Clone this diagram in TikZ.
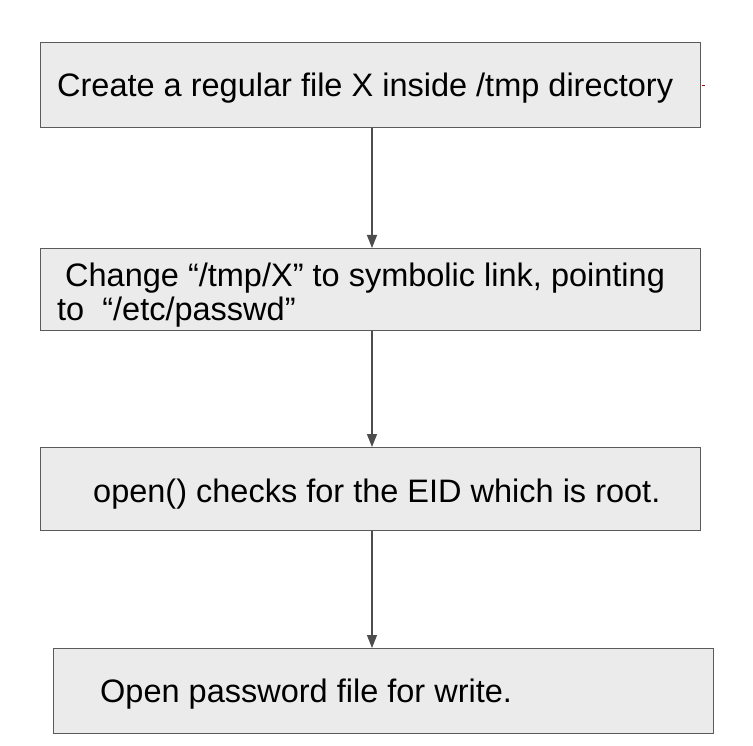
\documentclass[tikz,border=0pt]{standalone}
\usepackage{fontspec}
\setmainfont{Liberation Sans}
\usetikzlibrary{arrows.meta}
\definecolor{boxfill}{HTML}{EBEBEB}
\definecolor{boxline}{HTML}{5A5A5A}
\definecolor{arrowc}{HTML}{4D4D4D}
\begin{document}
\begin{tikzpicture}[x=1pt,y=-1pt,
  stepbox/.style={draw=boxline,fill=boxfill,line width=1.3pt,rectangle,inner sep=0pt,
    minimum width=660pt,minimum height=85pt,anchor=north west},
  lbl/.style={anchor=base west,inner sep=0pt,font=\fontsize{32.5}{33}\selectfont,text=black},
  conn/.style={draw=arrowc,line width=1.3pt,-{Triangle[length=13pt,width=10pt]}}]
\useasboundingbox (0,0) rectangle (753,746);
\fill[white] (0,0) rectangle (753,746);
\node[stepbox] (b1) at (40,42) {};
\node[stepbox,minimum height=82pt] (b2) at (40,248) {};
\node[stepbox,minimum height=83pt] (b3) at (40,447) {};
\node[stepbox] (b4) at (53,648) {};
\node[lbl] (t1) at (57,97) {Create a regular file X inside /tmp directory};
\node[lbl] (t2a) at (65,287) {Change “/tmp/X” to symbolic link, pointing};
\node[lbl] (t2b) at (57,320) {to \ “/etc/passwd”};
\node[lbl] (t3) at (93,502) {open() checks for the EID which is root.};
\node[lbl] (t4) at (100,702) {Open password file for write.};
\coordinate (r1) at (b1.east);
\draw[red!70!black,line width=0.8pt] ([xshift=1pt]r1) -- ([xshift=4pt]r1);
\draw[conn] (b1.south -| 372,0) -- (b2.north -| 372,0);
\draw[conn] (b2.south -| 372,0) -- (b3.north -| 372,0);
\draw[conn] (b3.south -| 372,0) -- (b4.north -| 372,0);
\end{tikzpicture}
\end{document}
